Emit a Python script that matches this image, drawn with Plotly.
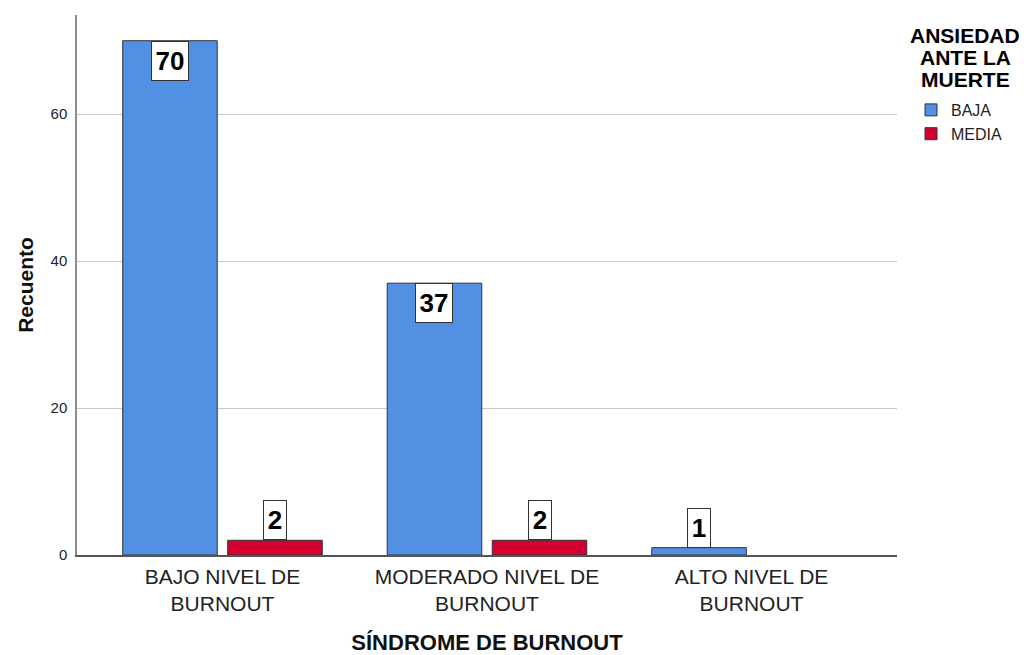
import plotly.graph_objects as go

categories = ["BAJO NIVEL DE<br>BURNOUT", "MODERADO NIVEL DE<br>BURNOUT", "ALTO NIVEL DE<br>BURNOUT"]
baja = [70, 37, 1]
media = [2, 2, None]
series_names = ["BAJA", "MEDIA"]
legend_title_lines = ["ANSIEDAD", "ANTE LA", "MUERTE"]
y_ticks = [0, 20, 40, 60]

colors = ["#5290E3", "#D40032"]
FONT = "Liberation Sans, Arial, sans-serif"

# page offset from the default body margin of the html page
OFF = 8
W, H = 1027 - OFF, 655 - OFF
# target plot area in page pixels
left, right, top, bottom = 77, 897, 15, 555
ml, mt = left - OFF, top - OFF
mr, mb = W - (right - OFF), H - (bottom - OFF)
x_range = [-0.55, 2.55]
y_range = [0, 73.5]
bargap, bargroupgap = 0.206, 0.1

fig = go.Figure()
for name, vals, col in zip(series_names, [baja, media], colors):
    fig.add_trace(go.Bar(
        x=categories, y=vals, name=name,
        marker=dict(color=col, line=dict(color="#333333", width=1)),
    ))

# value labels in boxes
plot_w = W - ml - mr
plot_h = H - mt - mb
px_per_cat = plot_w / (x_range[1] - x_range[0])
slot = px_per_cat * (1 - bargap) / 2
px_per_unit = plot_h / (y_range[1] - y_range[0])
for i, vals in enumerate([baja, media]):
    shift = (i - 0.5) * slot
    for cat, v in zip(categories, vals):
        if v is None:
            continue
        inside = v * px_per_unit > 45
        txt = str(v)
        fig.add_annotation(
            x=cat, y=v, xref="x", yref="y", xshift=shift,
            text="<b>%s</b>" % txt, showarrow=False,
            yanchor="top" if inside else "bottom",
            font=dict(family=FONT, size=26, color="black"),
            bgcolor="white", bordercolor="#333333", borderwidth=1, borderpad=0,
            width=14 * len(txt) + 8, height=38,
        )

# legend title lines (page pixel centres)
title_y = [36, 58, 80]
for line, yp in zip(legend_title_lines, title_y):
    fig.add_annotation(
        x=(965 - left) / plot_w, y=1 - (yp - top) / plot_h, xref="paper", yref="paper",
        text="<b>%s</b>" % line, showarrow=False, xanchor="center", yanchor="middle",
        font=dict(family=FONT, size=21, color="black"),
    )

fig.update_layout(
    width=W, height=H,
    margin=dict(l=ml, r=mr, t=mt, b=mb, autoexpand=False),
    paper_bgcolor="white", plot_bgcolor="white",
    barmode="group", bargap=bargap, bargroupgap=bargroupgap,
    font=dict(family=FONT, color="#222222"),
    legend=dict(
        x=(911 - left) / plot_w, y=1 - (93 - top) / plot_h, xanchor="left", yanchor="top",
        font=dict(family=FONT, size=16, color="#222222"),
        bgcolor="rgba(0,0,0,0)", tracegroupgap=0,
    ),
    showlegend=True,
)
fig.update_xaxes(
    range=x_range, showgrid=False, showline=True, linecolor="#555555", linewidth=1.5,
    ticks="", ticklabelstandoff=2, tickfont=dict(family=FONT, size=21, color="#222222"), automargin=False,
    title=dict(text="<b>SÍNDROME DE BURNOUT</b>", font=dict(family=FONT, size=22, color="#111111"), standoff=27),
    zeroline=False,
)
fig.update_yaxes(
    range=y_range, tickvals=y_ticks, showgrid=True, gridcolor="#C8C8C8", gridwidth=1,
    showline=True, linecolor="#8C8C8C", linewidth=1.5, zeroline=False, automargin=False,
    ticks="", ticklabelstandoff=5, tickfont=dict(family=FONT, size=15, color="#222222"),
    title=dict(text="<b>Recuento</b>", font=dict(family=FONT, size=21, color="#111111"), standoff=11),
)

fig.write_html("out.html")
